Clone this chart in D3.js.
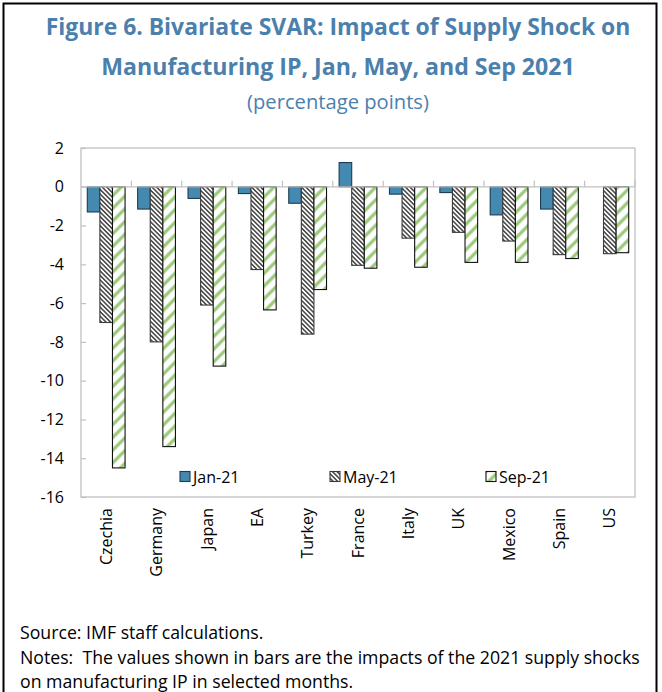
<!DOCTYPE html>
<html><head><meta charset="utf-8">
<script src="https://cdn.jsdelivr.net/npm/d3@7"></script>
<style>body{margin:0;background:#fff}svg{display:block}text{white-space:pre}</style>
</head><body>
<script>
const categories = ["Czechia","Germany","Japan","EA","Turkey","France","Italy","UK","Mexico","Spain","US"];
const jan21 = [-1.3,-1.15,-0.6,-0.35,-0.85,1.25,-0.38,-0.3,-1.45,-1.15,0];
const may21 = [-7.0,-8.0,-6.1,-4.27,-7.6,-4.05,-2.65,-2.35,-2.8,-3.5,-3.45];
const sep21 = [-14.5,-13.4,-9.25,-6.35,-5.3,-4.2,-4.15,-3.9,-3.9,-3.7,-3.4];
const seriesNames = ["Jan-21","May-21","Sep-21"];
const yTicks = [2,0,-2,-4,-6,-8,-10,-12,-14,-16];
const titleLines = ["Figure 6. Bivariate SVAR: Impact of Supply Shock on","Manufacturing IP, Jan, May, and Sep 2021"];
const subtitle = "(percentage points)";
const notes = ["Source: IMF staff calculations.","Notes:  The values shown in bars are the impacts of the 2021 supply shocks","on manufacturing IP in selected months."];

const W=662,H=692;
const svg=d3.select("body").append("svg").attr("width",W).attr("height",H);
const defs=svg.append("defs");
const pMay=defs.append("pattern").attr("id","pMay").attr("patternUnits","userSpaceOnUse")
  .attr("width",3.2).attr("height",3.2).attr("patternTransform","rotate(-45)");
pMay.append("rect").attr("width",3.2).attr("height",3.2).attr("fill","#fff");
pMay.append("line").attr("x1",0.8).attr("y1",0).attr("x2",0.8).attr("y2",3.2).attr("stroke","#333").attr("stroke-width",1.4);
const pSep=defs.append("pattern").attr("id","pSep").attr("patternUnits","userSpaceOnUse")
  .attr("width",9).attr("height",9).attr("patternTransform","rotate(45)");
pSep.append("rect").attr("width",9).attr("height",9).attr("fill","#fff");
pSep.append("line").attr("x1",2).attr("y1",0).attr("x2",2).attr("y2",9).attr("stroke","#98c878").attr("stroke-width",3.2);

const fills=["#4389b0","url(#pMay)","url(#pSep)"];
const strokes=["#1f3b52","#3a3a3a","#111"];

// frame
svg.append("rect").attr("x",3.5).attr("y",3.5).attr("width",653).attr("height",720).attr("fill","none").attr("stroke","#000").attr("stroke-width",2);

const fam="'Open Sans','Noto Sans',sans-serif";
function fit(sel,target){const l=sel.node().getComputedTextLength();const fs=parseFloat(sel.attr("font-size"));sel.attr("font-size",fs*target/l);}
const cx=338;
const t1=svg.append("text").attr("x",cx).attr("y",35).attr("text-anchor","middle").attr("font-family",fam).attr("font-weight","bold").attr("font-size",21).attr("fill","#4b80ad").text(titleLines[0]);
fit(t1,585);
const t2=svg.append("text").attr("x",cx).attr("y",75).attr("text-anchor","middle").attr("font-family",fam).attr("font-weight","bold").attr("font-size",21).attr("fill","#4b80ad").text(titleLines[1]);
fit(t2,474);
const t3=svg.append("text").attr("x",cx).attr("y",109).attr("text-anchor","middle").attr("font-family",fam).attr("font-size",17).attr("fill","#4b80ad").text(subtitle);
fit(t3,182);

const L=81,R=635,T=148,B=497;
const y=d3.scaleLinear().domain([2,-16]).range([T,B]);
const x=d3.scaleBand().domain(categories).range([L,R]).paddingInner(0.25).paddingOuter(0.125);
const xs=d3.scaleBand().domain(seriesNames).range([0,x.bandwidth()]);

// plot border
const g=svg.append("g");
g.append("rect").attr("x",L).attr("y",T).attr("width",R-L).attr("height",B-T).attr("fill","none").attr("stroke","#c0c0c0").attr("stroke-width",1.3);

// y axis
const yAx=svg.append("g").attr("transform",`translate(${L},0)`).call(d3.axisLeft(y).tickValues(yTicks).tickSize(-5).tickPadding(17).tickFormat(d=>String(d)));
yAx.select(".domain").remove();
yAx.selectAll("line").attr("stroke","#c0c0c0").attr("stroke-width",1.2);
yAx.selectAll("text").attr("font-family",fam).attr("font-size",16).attr("fill","#000");

// bars
const series=[jan21,may21,sep21];
series.forEach((vals,si)=>{
  svg.append("g").selectAll("rect").data(vals).join("rect")
    .attr("x",(d,i)=>x(categories[i])+xs(seriesNames[si]))
    .attr("width",xs.bandwidth())
    .attr("y",d=>y(Math.max(0,d)))
    .attr("height",d=>Math.abs(y(d)-y(0)))
    .attr("fill",fills[si]).attr("stroke",d=>d===0?"none":strokes[si]).attr("stroke-width",1.1);
});

// zero line with ticks
const zx=svg.append("g").attr("transform",`translate(0,${y(0)})`);
zx.append("line").attr("x1",L).attr("x2",R).attr("stroke","#c0c0c0").attr("stroke-width",1.3);
const bounds=categories.map(c=>x(c)-x.step()*x.paddingInner()/2).slice(1).concat([R]);
zx.selectAll("line.t").data(bounds).join("line").attr("class","t").attr("x1",d=>d).attr("x2",d=>d).attr("y1",0).attr("y2",-6).attr("stroke","#c0c0c0").attr("stroke-width",1.2);

// category labels
svg.append("g").selectAll("text").data(categories).join("text")
  .attr("transform",d=>`translate(${x(d)+x.bandwidth()/2},508) rotate(-90)`)
  .attr("text-anchor","end").attr("dy","0.35em").attr("font-family",fam).attr("font-size",16).attr("fill","#000").text(d=>d);

// legend
const legX=[180,330,486];
const lg=svg.append("g");
seriesNames.forEach((n,i)=>{
  lg.append("rect").attr("x",legX[i]).attr("y",471.5).attr("width",10).attr("height",10).attr("fill",fills[i]).attr("stroke",strokes[i]).attr("stroke-width",1.1);
  lg.append("text").attr("x",legX[i]+13).attr("y",477).attr("dy","0.35em").attr("font-family",fam).attr("font-size",16).attr("fill","#000").text(n);
});

// notes
const ny=[639,664,688];
const nt=notes.map((n,i)=>svg.append("text").attr("x",20).attr("y",ny[i]).attr("font-family",fam).attr("font-size",16).attr("fill","#000").text(n));
fit(nt[1],620);
const fsN=nt[1].attr("font-size");
nt.forEach(t=>t.attr("font-size",fsN));
</script>
</body></html>
